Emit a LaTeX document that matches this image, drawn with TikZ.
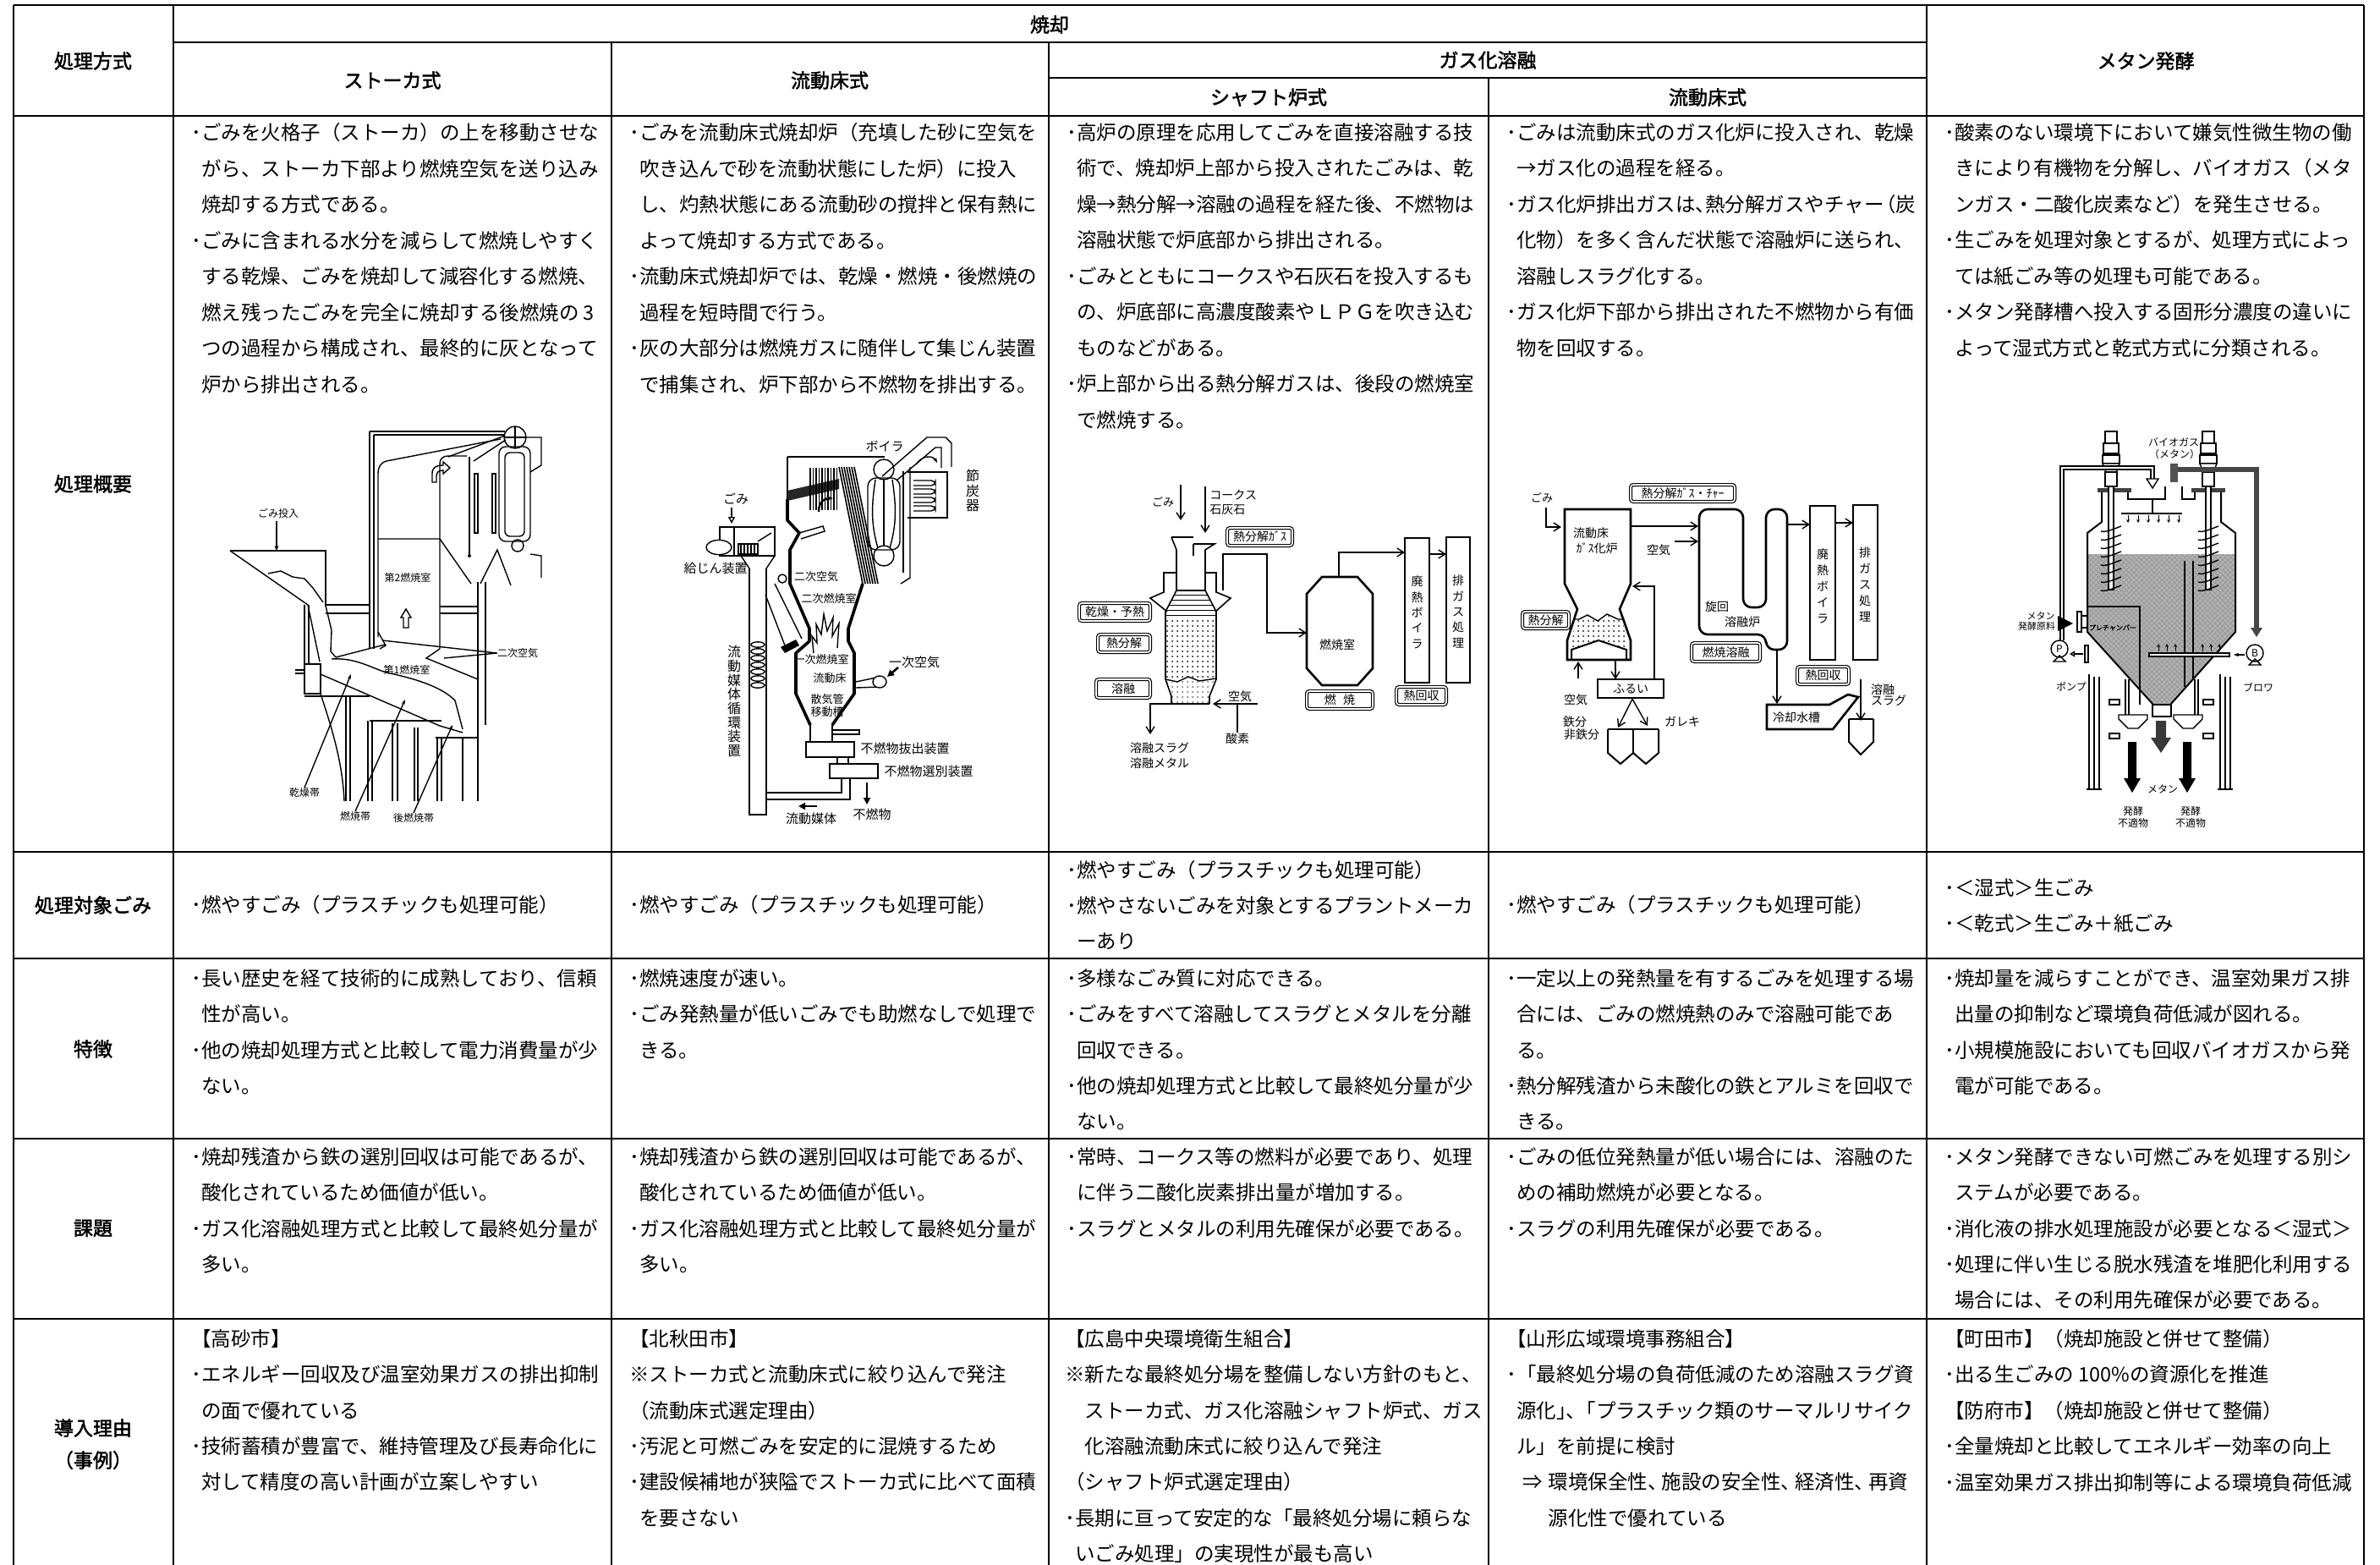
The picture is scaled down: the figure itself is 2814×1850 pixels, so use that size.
\documentclass[tikz,border=0pt]{standalone}
\usepackage{fontspec}
\setmainfont{Noto Sans CJK JP}[AutoFakeBold=2]
\usetikzlibrary{arrows.meta,patterns,calc}
\newcommand{\pbu}{･}
\newcommand{\pin}{\hspace*{0.5em}}
\newcommand{\kc}{\kern-0.3em}
\begin{document}
\begin{tikzpicture}[x=0.5pt,y=-0.5pt,
 tl/.style={line width=1.1pt},
 tlk/.style={line width=1.4pt},
 hd/.style={font=\fontsize{11.5}{13}\selectfont\bfseries, inner sep=0pt},
 c2/.style={anchor=north west, inner sep=0pt, align=left, font=\fontsize{11.75}{21.2}\selectfont},
 c1/.style={c2, font=\fontsize{11.75}{21.25}\selectfont},
 c2w/.style={c2, anchor=west},
 dl/.style={line width=0.7pt},
 dt/.style={inner sep=0pt, font=\fontsize{6}{7}\selectfont},
 dtm/.style={inner sep=0pt, font=\fontsize{6.5}{7.5}\selectfont},
 dtc/.style={inner sep=0pt, font=\fontsize{7}{8}\selectfont},
 dtb/.style={inner sep=0pt, font=\fontsize{7.5}{8.5}\selectfont},
 vlab/.style={inner sep=0pt, align=center, font=\fontsize{7}{9.2}\selectfont},
 lbox/.style={draw, double=white, double distance=0.8pt, line width=0.6pt, rounded corners=1.5pt, inner sep=0pt, font=\fontsize{7}{8}\selectfont},
 flow/.style={line width=0.7pt, -{Straight Barb[length=4pt,width=5pt]}},
 thk/.style={line width=1.3pt}]
\useasboundingbox (0,0) rectangle (2814,1850);
\fill[white] (0,0) rectangle (2814,1850);

% ---------- table lines ----------
\draw[tlk] (16,6) -- (2795,6);
\draw[tlk] (205,50) -- (2278,50);
\draw[tlk] (1240,92) -- (2278,92);
\draw[tl] (16,137) -- (2795,137);
\foreach \yy in {1007,1133,1346,1559} \draw[tl] (16,\yy) -- (2795,\yy);
\foreach \xx in {16,205,2278,2795} \draw[tl] (\xx,6) -- (\xx,1850);
\foreach \xx in {723,1240} \draw[tl] (\xx,50) -- (\xx,1850);
\draw[tl] (1760,92) -- (1760,1850);

% ---------- headers ----------
\node[hd] (h0) at (110,72) {処理方式};
\node[hd] (h1) at (1241,29) {焼却};
\node[hd] (h2) at (464,95) {ストーカ式};
\node[hd] (h3) at (981,95) {流動床式};
\node[hd] (h4) at (1759,71) {ガス化溶融};
\node[hd] (h5) at (1500,115) {シャフト炉式};
\node[hd] (h6) at (2019,115) {流動床式};
\node[hd] (h7) at (2537,72) {メタン発酵};
\node[hd] (r1) at (110,572) {処理概要};
\node[hd] (r2) at (110,1070) {処理対象ごみ};
\node[hd] (r3) at (110,1240) {特徴};
\node[hd] (r4) at (110,1452) {課題};
\node[hd] (r5) at (110,1688) {導入理由};
\node[hd] (r6) at (110,1726) {（事例）};

% ---------- row: 処理概要 ----------
\node[c1] (t2) at (226,145) {\pbu ごみを火格子（ストーカ）の上を移動させな\\\pin がら、ストーカ下部より燃焼空気を送り込み\\\pin 焼却する方式である。\\\pbu ごみに含まれる水分を減らして燃焼しやすく\\\pin する乾燥、ごみを焼却して減容化する燃焼、\\\pin 燃え残ったごみを完全に焼却する後燃焼の 3\\\pin つの過程から構成され、最終的に灰となって\\\pin 炉から排出される。};
\node[c1] (t3) at (744,145) {\pbu ごみを流動床式焼却炉（充填した砂に空気を\\\pin 吹き込んで砂を流動状態にした炉）に投入\\\pin し、灼熱状態にある流動砂の撹拌と保有熱に\\\pin よって焼却する方式である。\\\pbu 流動床式焼却炉では、乾燥・燃焼・後燃焼の\\\pin 過程を短時間で行う。\\\pbu 灰の大部分は燃焼ガスに随伴して集じん装置\\\pin で捕集され、炉下部から不燃物を排出する。};
\node[c1] (t4) at (1261,145) {\pbu 高炉の原理を応用してごみを直接溶融する技\\\pin 術で、焼却炉上部から投入されたごみは、乾\\\pin 燥→熱分解→溶融の過程を経た後、不燃物は\\\pin 溶融状態で炉底部から排出される。\\\pbu ごみとともにコークスや石灰石を投入するも\\\pin の、炉底部に高濃度酸素やＬＰＧを吹き込む\\\pin ものなどがある。\\\pbu 炉上部から出る熱分解ガスは、後段の燃焼室\\\pin で燃焼する。};
\node[c1] (t5) at (1781,145) {\pbu ごみは流動床式のガス化炉に投入され、乾燥\\\pin →ガス化の過程を経る。\\\pbu ガス化炉排出ガスは、\kern-0.5em 熱分解ガスやチャー\kern-0.4em（炭\\\pin 化物）を多く含んだ状態で溶融炉に送られ、\\\pin 溶融しスラグ化する。\\\pbu ガス化炉下部から排出された不燃物から有価\\\pin 物を回収する。};
\node[c1] (t6) at (2299,145) {\pbu 酸素のない環境下において嫌気性微生物の働\\\pin きにより有機物を分解し、バイオガス（メタ\\\pin ンガス・二酸化炭素など）を発生させる。\\\pbu 生ごみを処理対象とするが、処理方式によっ\\\pin ては紙ごみ等の処理も可能である。\\\pbu メタン発酵槽へ投入する固形分濃度の違いに\\\pin よって湿式方式と乾式方式に分類される。};

% ---------- row: 処理対象ごみ ----------
\node[c2w] (g2) at (226,1070) {\pbu 燃やすごみ（プラスチックも処理可能）};
\node[c2w] (g3) at (744,1070) {\pbu 燃やすごみ（プラスチックも処理可能）};
\node[c2w] (g4) at (1261,1070) {\pbu 燃やすごみ（プラスチックも処理可能）\\\pbu 燃やさないごみを対象とするプラントメーカ\\\pin ーあり};
\node[c2w] (g5) at (1781,1070) {\pbu 燃やすごみ（プラスチックも処理可能）};
\node[c2w] (g6) at (2299,1071) {\pbu ＜湿式＞生ごみ\\\pbu ＜乾式＞生ごみ＋紙ごみ};

% ---------- row: 特徴 ----------
\node[c2] (f2) at (226,1145) {\pbu 長い歴史を経て技術的に成熟しており、信頼\\\pin 性が高い。\\\pbu 他の焼却処理方式と比較して電力消費量が少\\\pin ない。};
\node[c2] (f3) at (744,1145) {\pbu 燃焼速度が速い。\\\pbu ごみ発熱量が低いごみでも助燃なしで処理で\\\pin きる。};
\node[c2] (f4) at (1261,1145) {\pbu 多様なごみ質に対応できる。\\\pbu ごみをすべて溶融してスラグとメタルを分離\\\pin 回収できる。\\\pbu 他の焼却処理方式と比較して最終処分量が少\\\pin ない。};
\node[c2] (f5) at (1781,1145) {\pbu 一定以上の発熱量を有するごみを処理する場\\\pin 合には、ごみの燃焼熱のみで溶融可能であ\\\pin る。\\\pbu 熱分解残渣から未酸化の鉄とアルミを回収で\\\pin きる。};
\node[c2] (f6) at (2299,1145) {\pbu 焼却量を減らすことができ、温室効果ガス排\\\pin 出量の抑制など環境負荷低減が図れる。\\\pbu 小規模施設においても回収バイオガスから発\\\pin 電が可能である。};

% ---------- row: 課題 ----------
\node[c2] (k2) at (226,1356) {\pbu 焼却残渣から鉄の選別回収は可能であるが、\\\pin 酸化されているため価値が低い。\\\pbu ガス化溶融処理方式と比較して最終処分量が\\\pin 多い。};
\node[c2] (k3) at (744,1356) {\pbu 焼却残渣から鉄の選別回収は可能であるが、\\\pin 酸化されているため価値が低い。\\\pbu ガス化溶融処理方式と比較して最終処分量が\\\pin 多い。};
\node[c2] (k4) at (1261,1356) {\pbu 常時、コークス等の燃料が必要であり、処理\\\pin に伴う二酸化炭素排出量が増加する。\\\pbu スラグとメタルの利用先確保が必要である。};
\node[c2] (k5) at (1781,1356) {\pbu ごみの低位発熱量が低い場合には、溶融のた\\\pin めの補助燃焼が必要となる。\\\pbu スラグの利用先確保が必要である。};
\node[c2] (k6) at (2299,1356) {\pbu メタン発酵できない可燃ごみを処理する別シ\\\pin ステムが必要である。\\\pbu 消化液の排水処理施設が必要となる＜湿式＞\\\pbu 処理に伴い生じる脱水残渣を堆肥化利用する\\\pin 場合には、その利用先確保が必要である。};

% ---------- row: 導入理由 ----------
\node[c2] (d2) at (226,1571) {【高砂市】\\\pbu エネルギー回収及び温室効果ガスの排出抑制\\\pin の面で優れている\\\pbu 技術蓄積が豊富で、維持管理及び長寿命化に\\\pin 対して精度の高い計画が立案しやすい};
\node[c2] (d3) at (744,1571) {【北秋田市】\\※ストーカ式と流動床式に絞り込んで発注\\（流動床式選定理由）\\\pbu 汚泥と可燃ごみを安定的に混焼するため\\\pbu 建設候補地が狭隘でストーカ式に比べて面積\\\pin を要さない};
\node[c2] (d4) at (1259,1571) {【広島中央環境衛生組合】\\※新たな最終処分場を整備しない方針のもと、\\\hspace*{1em}ストーカ式、ガス化溶融シャフト炉式、ガス\\\hspace*{1em}化溶融流動床式に絞り込んで発注\\（シャフト炉式選定理由）\\\pbu 長期に亘って安定的な「最終処分場に頼らな\\\pin いごみ処理」の実現性が最も高い};
\node[c2] (d5) at (1781,1571) {【山形広域環境事務組合】\\\pbu 「最終処分場の負荷低減のため溶融スラグ資\\\pin 源化」\kern-0.5em、\kern-0.5em「プラスチック類のサーマルリサイク\\\pin ル」を前提に検討\\\hspace*{0.8em}⇒\hspace{0.3em}環境保全性、\kc 施設の安全性、\kc 経済性、\kc 再資\\\hspace*{2.1em}源化性で優れている};
\node[c2] (d6) at (2299,1571) {【町田市】（焼却施設と併せて整備）\\\pbu 出る生ごみの 100\%の資源化を推進\\【防府市】（焼却施設と併せて整備）\\\pbu 全量焼却と比較してエネルギー効率の向上\\\pbu 温室効果ガス排出抑制等による環境負荷低減};

% =============== Diagram A : stoker ===============
\begin{scope}[dl]
\draw (272,651) -- (385,651) -- (385,716);
\draw (272,651) -- (364,715) -- (378,782);
\draw (385,716) -- (392,745) -- (391,770) -- (397,777);
\draw (317,678) -- (332,675) -- (346,682) -- (360,684) -- (370,695) -- (382,712);
\draw (360,715) -- (360,820) -- (379,820) -- (379,785) -- (360,785);
\draw (365,715) -- (365,785);
\draw (349,792) -- (360,792); \draw (349,796) -- (360,796);
\draw (397,777) -- (455,762);
\draw (379,797) -- (520,858) -- (547,866);
\draw (392,779) .. controls (420,777) and (440,790) .. (457,795) .. controls (485,801) and (520,810) .. (538,828) -- (547,862);
\draw (437,510) -- (597,510); \draw (442,514) -- (597,514);
\draw (437,510) -- (437,767); \draw (442,514) -- (442,767);
\draw (447,753) -- (447,560) .. controls (447,552) and (450,547) .. (457,545) -- (592,519);
\draw (447,747) -- (456,763) -- (449,767);
\draw (447,637) -- (520,637) -- (557,690);
\draw (520,767) -- (520,548) .. controls (520,542) and (524,539) .. (530,539) -- (552,539);
\draw (520,767) -- (504,778) -- (565,803);
\draw (565,688) -- (565,947); \draw (574,688) -- (574,857);
\draw (385,715) -- (437,715); \draw (385,725) -- (437,725);
\draw (520,717) -- (565,717); \draw (520,725) -- (565,725);
\draw (555,540) -- (555,657); \fill (555,657) circle (1pt);
\draw (561,560) rectangle (565,630); \draw (582,560) rectangle (586,630);
\draw (360,823) -- (437,823);
\draw (437,852) -- (522,852);
\draw (515,872) -- (565,872);
\foreach \xx in {409,414} \draw (\xx,823) -- (\xx,947);
\foreach \xx in {435,440} \draw (\xx,852) -- (\xx,947);
\foreach \xx in {464,470} \draw (\xx,855) -- (\xx,947);
\foreach \xx in {490,494} \draw (\xx,860) -- (\xx,947);
\foreach \xx in {517,522,547} \draw (\xx,872) -- (\xx,947);
\draw (379,820) .. controls (392,860) and (405,900) .. (407,947);
\draw (609,517) circle (6.5pt);
\draw (609,504) -- (609,530); \draw (596,517) -- (622,517);
\draw[rounded corners=4pt] (590,528) rectangle (627,640);
\draw[rounded corners=3pt] (597,535) rectangle (620,634);
\draw (612,645) circle (3.5pt);
\draw (597,515) -- (530,540); \draw (598,520) -- (560,545);
\draw (622,517) -- (640,517) -- (640,550) -- (627,558);
\draw (568,690) -- (588,650) -- (604,692);
\draw (627,655) -- (640,657) -- (640,683);
\draw (477,742) -- (477,730) -- (474,730) -- (480,720) -- (486,730) -- (483,730) -- (483,742) -- cycle;
\draw (511,570) -- (511,560) .. controls (511,553) and (515,550) .. (524,550) -- (524,546) -- (532,553) -- (524,560) -- (524,556) .. controls (519,556) and (516,558) .. (516,563) -- (516,570) -- cycle;
\end{scope}
\node[dt] (a1) at (329,607) {ごみ投入};
\coordinate (a1e) at (327,651);
\draw[dl,-{Stealth[length=3pt,width=2.5pt]}] (a1.south) ++(-2,3) -- (a1e);
\node[dt] (a2) at (482,683) {第2燃焼室};
\node[dt] (a3) at (481,792) {第1燃焼室};
\node[dt] (a4) at (612,772) {二次空気};
\coordinate (a4a) at (452,757); \coordinate (a4b) at (525,778);
\draw[dl] (a4.west) -- (a4a); \draw[dl] (a4.west) -- (a4b);
\node[dt] (a5) at (360,937) {乾燥帯};
\node[dt] (a6) at (420,965) {燃焼帯};
\node[dt] (a7) at (489,967) {後燃焼帯};
\coordinate (a5e) at (415,797); \coordinate (a6e) at (479,827); \coordinate (a7e) at (535,857);
\draw[dl,-{Stealth[length=3pt,width=2pt]}] (a5.north) -- (a5e);
\draw[dl,-{Stealth[length=3pt,width=2pt]}] (a6.north) -- (a6e);
\draw[dl,-{Stealth[length=3pt,width=2pt]}] (a7.north) -- (a7e);

% =============== Diagram B : fluidized bed incinerator ===============
\begin{scope}[dl]
\draw (931,540) -- (1046,540);
\draw (931,540) -- (931,590);
\fill[black!85] (931,580) -- (992,566) -- (992,578) -- (931,592) -- cycle;
\foreach \xx in {958,961.5,...,990} \draw[line width=0.9pt] (\xx,553) -- (\xx,603);
\foreach \i in {0,...,6} \draw[line width=0.8pt] ({992+3*\i},552) -- ({1020+3*\i},690);
\draw (945,630) -- (973,622) -- (975,628) -- (947,637);
\draw (905,703) -- (928,763); \draw (916,690) -- (948,755);
\draw (851,623) rectangle (916,657);
\draw (868,623) -- (868,657);
\draw[fill=white] (850,647) ellipse [x radius=7.5pt, y radius=4.3pt];
\draw (873,643) rectangle (896,655);
\foreach \xx in {876,880,...,894} \draw (\xx,643) -- (\xx,655);
\draw (896,640) -- (912,630);
\draw (876,657) -- (886,672); \draw (916,657) -- (906,672);
\draw (886,672) -- (886,963) -- (906,963) -- (906,672);
\foreach \yy in {762,770,...,814} \draw (896,\yy) ellipse [x radius=4pt, y radius=1.6pt];
\draw (1045,555) circle (6pt);
\draw (1045,657) circle (6pt);
\draw[rounded corners=5pt] (1026,565) rectangle (1064,650);
\draw (1035,567) .. controls (1030,600) and (1030,620) .. (1038,648);
\draw (1055,567) .. controls (1060,600) and (1060,620) .. (1052,648);
\draw (1045,567) -- (1045,645);
\draw (1068,557) -- (1068,677); \draw (1076,552) -- (1076,683) -- (1065,690);
\draw (1073,558) -- (1120,558) -- (1120,612) -- (1073,612);
\foreach \yy in {568,578,588,598} \draw[rounded corners=2.5pt] (1080,\yy) -- (1106,\yy) -- (1106,{\yy+6}) -- (1080,{\yy+6});
\draw (1043,563) -- (1096,517) -- (1118,517) -- (1125,524) -- (1125,552);
\draw (1060,568) -- (1106,529) -- (1113,529) -- (1113,553);
\draw[-{Stealth[length=3pt]}] (1083,549) .. controls (1090,538) and (1103,538) .. (1108,547);
\draw (958,857) -- (958,877); \draw (984,857) -- (984,877);
\draw (953,877) rectangle (1010,895);
\draw (981,903) rectangle (1038,920);
\draw (990,895) -- (990,903); \draw (1003,895) -- (1003,903);
\draw (984,863) -- (1016,863) -- (1016,868) -- (984,868);
\draw (995,920) -- (995,937) -- (906,937);
\draw (1005,920) -- (1005,945) -- (906,945);
\draw (1012,806) -- (1036,801); \draw (1012,813) -- (1040,812);
\draw[fill=white] (1040,806) ellipse [x radius=4pt, y radius=3.5pt];
\draw (925,684) circle (2.5pt);
\draw (962,772) -- (960,752) -- (966,760) -- (965,738) -- (971,750) -- (974,726) -- (978,746) -- (985,730) -- (984,752) -- (992,737) -- (990,766);
\end{scope}
\draw[line width=1.8pt, line join=round] (931,590) -- (931,615) -- (945,630) -- (934,650) -- (934,690) -- (957,743) -- (957,758) -- (941,772) -- (941,820) -- (958,857);
\draw[line width=1.8pt, line join=round] (1020,690) -- (1003,743) -- (1003,758) -- (1010,772) -- (1010,820) -- (984,857);
\fill (923,765) -- (941,756) -- (945,763) -- (928,772) -- cycle;
\draw[line width=1.2pt,-{Stealth[length=4pt]}] (968,605) .. controls (968,593) and (975,589) .. (985,589);
\draw[line width=1.3pt,-{Triangle[length=4pt,width=4pt]}] (1025,925) -- (1025,951);
\draw[line width=1.3pt,-{Triangle[length=4pt,width=4pt]}] (966,953) -- (944,953);
\draw[line width=1.3pt,-{Triangle[length=4pt,width=4pt]}] (1062,789) -- (1049,800);
\node[dtb] (b1) at (1046,528) {ボイラ};
\node[inner sep=0pt, align=center, font=\fontsize{8}{8.6}\selectfont] (b2) at (1150,580) {節\\炭\\器};
\node[dtb] (b3) at (870,590) {ごみ};
\coordinate (b3e) at (865,619);
\draw[dl,-{Triangle[open,length=4pt,width=4pt]}] (865,600) -- (b3e);
\node[dtb] (b4) at (846,672) {給じん装置};
\node[inner sep=0pt, align=center, font=\fontsize{8}{8.35}\selectfont] (b5) at (868,829) {流\\動\\媒\\体\\循\\環\\装\\置};
\node[dtm] (b6) at (965,682) {二次空気};
\node[dtm] (b7) at (980,708) {二次燃焼室};
\node[dtm] (b8) at (971,780) {一次燃焼室};
\node[dtm] (b9) at (981,802) {流動床};
\node[dtm] (b10) at (978,827) {散気管};
\node[dtm] (b11) at (978,842) {移動槽};
\node[dtb] (b12) at (1081,783) {一次空気};
\node[dtb] (b13) at (1070,885) {不燃物抜出装置};
\node[dtb] (b14) at (1098,912) {不燃物選別装置};
\node[dtb] (b15) at (1031,963) {不燃物};
\node[dtb] (b16) at (959,968) {流動媒体};

% =============== Diagram C : shaft furnace ===============
\node[dtm] (c1) at (1375,593) {ごみ};
\node[dtc, anchor=west] (c2) at (1430,585) {コークス};
\node[dtc, anchor=west] (c3) at (1430,603) {石灰石};
\coordinate (c1s) at (1396,573); \coordinate (c1e) at (1396,615);
\coordinate (c2s) at (1425,575); \coordinate (c2e) at (1425,630);
\draw[flow] (c1s) -- (c1e);
\draw[flow] (c2s) -- (c2e);
\fill[pattern=horizontal lines] (1391,698) -- (1425,698) -- (1438,723) -- (1438,731) -- (1378,731) -- (1378,723) -- cycle;
\fill[pattern=dots] (1378,731) rectangle (1438,803);
\fill[pattern=dots, pattern color=black!60] (1380,806) -- (1392,806) -- (1405,800) -- (1418,805) -- (1436,802) -- (1430,823) -- (1430,832) -- (1385,832) -- (1385,823) -- cycle;
\begin{scope}[line width=0.8pt]
\draw (1385,635) -- (1411,635);
\draw (1385,635) -- (1391,650) -- (1391,698);
\draw (1411,643) -- (1436,643) -- (1425,650) -- (1425,698);
\draw (1411,643) -- (1411,657);
\draw (1391,677) -- (1376,677) -- (1376,700) -- (1360,707) -- (1380,723);
\draw (1425,677) -- (1438,677) -- (1438,700) -- (1455,707) -- (1437,723);
\draw (1391,698) -- (1378,723) -- (1378,803) -- (1385,823) -- (1385,832);
\draw (1425,698) -- (1438,723) -- (1438,803) -- (1430,823) -- (1430,832);
\draw (1391,698) -- (1425,698);
\end{scope}
\draw[dl] (1378,803) -- (1392,806) -- (1405,800) -- (1418,805) -- (1438,802);
\draw[line width=1.4pt] (1385,832) -- (1430,832);
\node[lbox, minimum width=42pt, minimum height=10.5pt] (c4) at (1318,723.5) {乾燥・予熱};
\node[lbox, minimum width=31pt, minimum height=10.5pt] (c5) at (1329,760.5) {熱分解};
\node[lbox, minimum width=32pt, minimum height=11pt] (c6) at (1328,814) {溶融};
\node[lbox, minimum width=38.5pt, minimum height=10.5pt] (c7) at (1489.5,634.5) {熱分解ｶﾞｽ};
\draw[thk] (1545,702) -- (1563,682) -- (1605,682) -- (1623,702) -- (1623,790) -- (1605,810) -- (1563,810) -- (1545,790) -- cycle;
\node[dtc] (c8) at (1581,762) {燃焼室};
\draw[flow] (1446,698) -- (1446,655) -- (1498,655) -- (1498,748) -- (1545,748);
\draw[flow] (1583,682) -- (1583,653) -- (1661,653);
\draw[thk] (1661,636) rectangle (1690,807);
\draw[thk] (1710,635) rectangle (1738,807);
\draw[flow] (1690,655) -- (1710,655);
\node[vlab] (c9) at (1675.5,724) {廃\\熱\\ボ\\イ\\ラ};
\node[vlab] (c10) at (1724,723) {排\\ガ\\ス\\処\\理};
\node[lbox, minimum width=39pt, minimum height=10.5pt] (c11) at (1584,827.5) {燃\hspace{0.6em}焼};
\node[lbox, minimum width=29.5pt, minimum height=10.5pt] (c12) at (1680.5,822.5) {熱回収};
\draw[flow] (1487,832) -- (1434,832);
\node[dtc] (c13) at (1466,823) {空気};
\node[dtc] (c14) at (1463,873) {酸素};
\draw[dl] (c14.north) -- (1463,832);
\draw[flow] (1385,832) -- (1360,832) -- (1360,868);
\node[dtc] (c15) at (1371,884) {溶融スラグ};
\node[dtc] (c16) at (1371,902) {溶融メタル};

% =============== Diagram D : gasification fluidized bed ===============
\node[dtm] (e1) at (1823,588) {ごみ};
\draw[flow] (1828,600) -- (1828,623) -- (1846,623);
\node[lbox, minimum width=61.5pt, minimum height=10pt] (e2) at (1989.5,583) {熱分解ｶﾞｽ・ﾁｬｰ};
\fill[pattern=dots] (1862,732) -- (1877,728) -- (1889,734) -- (1900,727) -- (1913,732) -- (1919,732) -- (1923,767) -- (1890,757) -- (1858,767) -- cycle;
\draw[thk] (1850,690) -- (1850,602) -- (1928,602) -- (1928,690) -- (1915,720) -- (1928,757) -- (1928,780) -- (1853,780) -- (1853,757) -- (1865,720) -- cycle;
\draw[dl] (1861,732) -- (1867,732) -- (1877,727) -- (1889,734) -- (1900,726) -- (1913,732) -- (1919,732);
\draw[line width=1pt] (1858,780) -- (1858,768) -- (1890,757) -- (1923,768) -- (1923,780);
\node[dtc] (e3) at (1881,630) {流動床};
\node[dtc] (e4) at (1888,648) {ｶﾞｽ化炉};
\draw[flow] (1928,622) -- (2008,622);
\node[dtc] (e5) at (1961,650) {空気};
\draw[flow] (1980,640) -- (2008,640);
\node[lbox, minimum width=27.5pt, minimum height=10pt] (e6) at (1827.5,733) {熱分解};
\draw[thk, rounded corners=5pt] (2035,602) -- (2009,602) -- (2009,750) -- (2088,750) -- (2088,768) -- (2113,768) -- (2113,602) -- (2088,602) -- (2088,718) -- (2061,718) -- (2061,602) -- (2035,602);
\node[dtc] (e7) at (2030,717) {旋回};
\node[dtc] (e8) at (2060,735) {溶融炉};
\node[lbox, minimum width=40.5pt, minimum height=11pt] (e9) at (2040.5,771) {燃焼溶融};
\draw[flow] (2113,620) -- (2140,620);
\draw[thk] (2140,598) rectangle (2170,780);
\draw[thk] (2191,597) rectangle (2220,780);
\draw[flow] (2170,618) -- (2191,618);
\node[vlab, font=\fontsize{7}{9.5}\selectfont] (e10) at (2155,693) {廃\\熱\\ボ\\イ\\ラ};
\node[vlab, font=\fontsize{7}{9.5}\selectfont] (e11) at (2205,691) {排\\ガ\\ス\\処\\理};
\node[lbox, minimum width=30.5pt, minimum height=10.5pt] (e12) at (2155.5,798.5) {熱回収};
\draw[flow] (2101,768) -- (2101,832);
\draw[thk] (2089,833) -- (2163,833) -- (2185,821) -- (2197,824) -- (2167,862) -- (2089,862) -- cycle;
\node[dtc] (e13) at (2124,848) {冷却水槽};
\draw[line width=1pt] (2186,850) -- (2215,850);
\draw[line width=1pt] (2186,850) -- (2186,877) -- (2200,892) -- (2215,877) -- (2215,850);
\draw[flow] (2200,803) -- (2200,852);
\node[dtc] (e14) at (2226,815) {溶融};
\node[dtc] (e15) at (2233,828) {スラグ};
\draw[flow] (1866,802) -- (1866,782);
\node[dtc] (e16) at (1863,827) {空気};
\draw[flow] (1910,780) -- (1910,803);
\node[draw, thk, minimum width=39pt, minimum height=11pt, inner sep=0pt, font=\fontsize{7}{8}\selectfont] (e17) at (1928,814) {ふるい};
\draw[flow] (1956,803) -- (1956,693) -- (1930,693);
\coordinate (e17l) at (1913,860); \coordinate (e17r) at (1948,858);
\draw[flow] (e17.south) ++(2,0) -- (e17l);
\draw[flow] (e17.south) ++(2,0) -- (e17r);
\draw[line width=1pt] (1901,862) -- (1961,862);
\draw[line width=1pt] (1901,862) -- (1901,890) -- (1916,903) -- (1931,890) -- (1946,903) -- (1961,890) -- (1961,862);
\draw[line width=1pt] (1931,862) -- (1931,890);
\node[dtc] (e18) at (1862,853) {鉄分};
\node[dtc] (e19) at (1870,868) {非鉄分};
\node[dtc] (e20) at (1989,853) {ガレキ};

% =============== Diagram E : methane fermentation ===============
\fill[gray!60] (2468,655) -- (2643,655) -- (2643,747) -- (2566,833) -- (2546,833) -- (2468,747) -- cycle;
\fill[pattern=crosshatch, pattern color=gray!80] (2468,655) -- (2643,655) -- (2643,747) -- (2566,833) -- (2546,833) -- (2468,747) -- cycle;
\draw[line width=1pt] (2485,580) -- (2485,617) -- (2468,630) -- (2468,747) -- (2546,833);
\draw[line width=1pt] (2626,580) -- (2626,617) -- (2643,630) -- (2643,747) -- (2566,833);
\fill[black!75] (2480,577) rectangle (2520,582);
\fill[black!75] (2591,577) rectangle (2631,582);
\draw[line width=1.2pt] (2516,582) -- (2516,590) -- (2560,590) -- (2560,575);
\draw[line width=1.2pt] (2580,575) -- (2580,590) -- (2595,590) -- (2595,582);
\draw[dl] (2545,590) -- (2545,607);
\draw[dl] (2508,607) -- (2580,607);
\foreach \xx in {2516,2528,...,2576} \draw[line width=0.4pt,-{Stealth[length=2pt,width=2pt]}] (\xx,609) -- (\xx,618);
\foreach \mx in {2496,2611} {
  \draw[dl, fill=white] (\mx-3,575) rectangle (\mx+3,697);
  \foreach \yy in {625,635,...,695} \draw[line width=0.7pt] (\mx-12,{\yy+3}) .. controls (\mx-6,{\yy+5}) and (\mx+6,{\yy-1}) .. (\mx+12,{\yy-3});
  \draw[dl, fill=white] (\mx-7,510) rectangle (\mx+7,524);
  \draw[dl, fill=white] (\mx-9,524) rectangle (\mx+9,536);
  \draw[dl, fill=white] (\mx-10,538) rectangle (\mx+10,548);
  \draw[dl, fill=white] (\mx-10,548) -- (\mx+10,548) -- (\mx+6,558) -- (\mx-6,558) -- cycle;
  \draw[dl, fill=white] (\mx-7,558) rectangle (\mx+7,575);
}
\draw[line width=1pt] (2468,717) -- (2530,717) -- (2530,833);
\draw[line width=1pt] (2583,663) -- (2583,812);
\draw[line width=1pt] (2593,663) -- (2593,803);
\draw[dl, fill=white] (2545,833) rectangle (2567,847);
\foreach \hx in {2513,2517,2595,2599} \draw[dl] (\hx,803) -- (\hx,845);
\foreach \hx in {2522,2587} \draw[dl, fill=white] (\hx-17,845) -- (\hx+17,845) -- (\hx+17,850) -- (\hx+6,861) -- (\hx-6,861) -- (\hx-17,850) -- cycle;
\foreach \hx in {2500,2611} {\draw[dl] (\hx-6,827) rectangle (\hx+6,833); \draw[dl] (\hx-6,867) rectangle (\hx+6,873);}
\draw[line width=2.6pt] (2438,757) -- (2438,553) -- (2545,553) -- (2545,566);
\draw[line width=1.2pt, white] (2438,758) -- (2438,553) -- (2545,553) -- (2545,567);
\draw[dl, fill=white] (2538,566) -- (2552,566) -- (2545,577) -- cycle;
\draw[line width=2.6pt, gray!55!black] (2575,555) -- (2668,555) -- (2668,742);
\fill[gray!55!black] (2661,742) -- (2675,742) -- (2668,753) -- cycle;
\fill[gray!65!black] (2566,548) rectangle (2575,570);
\fill (2433,728) -- (2451,737) -- (2433,746) -- cycle;
\draw[dl] (2456,723) rectangle (2461,747);
\draw[dl] (2461,728) -- (2468,728); \draw[dl] (2461,742) -- (2468,742);
\draw[dl, fill=white] (2435,767) circle (5pt);
\node[inner sep=0pt, font=\fontsize{6}{7}\selectfont] (m1) at (2435,767) {P};
\draw[dl] (2428,782) -- (2442,782) -- (2435,775) -- cycle;
\draw[dl,-{Triangle[open,length=3pt,width=3.5pt]}] (2463,773) -- (2447,773);
\draw[dl] (2465,763) rectangle (2469,783);
\draw[dl, fill=white] (2666,772) circle (5pt);
\node[inner sep=0pt, font=\fontsize{6}{7}\selectfont] (m2) at (2666,772) {B};
\draw[dl] (2659,786) -- (2673,786) -- (2666,779) -- cycle;
\draw[dl,-{Stealth[length=3pt]}] (2654,774) -- (2641,774);
\draw[dl, fill=white] (2541,772) rectangle (2636,776);
\foreach \xx in {2552,2562,2572,2604,2614,2624} \draw[line width=0.4pt,-{Stealth[length=2pt,width=2pt]}] (\xx,770) -- (\xx,761);
\foreach \lx in {2470,2625} {\draw[dl] (\lx,797) -- (\lx,933); \draw[dl] (\lx+12,800) -- (\lx+12,933); \draw[dl] (\lx+6,800) -- (\lx+6,933); \draw[dl] (\lx-3,933) -- (\lx+15,933);}
\fill (2516,877) -- (2526,877) -- (2526,920) -- (2531,920) -- (2521,937) -- (2511,920) -- (2516,920) -- cycle;
\fill (2581,877) -- (2591,877) -- (2591,920) -- (2596,920) -- (2586,937) -- (2576,920) -- (2581,920) -- cycle;
\fill[gray!45!black] (2549,852) -- (2561,852) -- (2561,872) -- (2567,872) -- (2555,890) -- (2543,872) -- (2549,872) -- cycle;
\node[dt] (m3) at (2570,523) {バイオガス};
\node[dt] (m4) at (2571,537) {（メタン）};
\node[inner sep=0pt, font=\fontsize{5.5}{6}\selectfont] (m5) at (2413,728) {メタン};
\node[inner sep=0pt, font=\fontsize{5.5}{6}\selectfont] (m6) at (2408,740) {発酵原料};
\node[inner sep=0pt, font=\fontsize{4}{5}\selectfont\bfseries] (m7) at (2498,742) {プレチャンバー};
\node[dt] (m8) at (2449,812) {ポンプ};
\node[dt] (m9) at (2670,813) {ブロワ};
\node[dt] (m10) at (2557,933) {メタン};
\node[inner sep=0pt, align=center, font=\fontsize{6}{6.6}\selectfont] (m11) at (2522,966) {発酵\\不適物};
\node[inner sep=0pt, align=center, font=\fontsize{6}{6.6}\selectfont] (m12) at (2590,966) {発酵\\不適物};
\end{tikzpicture}
\end{document}
